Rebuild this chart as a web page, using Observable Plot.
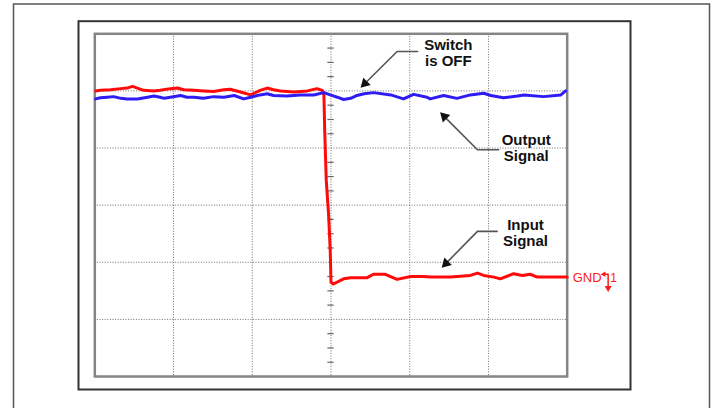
<!DOCTYPE html>
<html>
<head>
<meta charset="utf-8">
<script src="https://cdn.jsdelivr.net/npm/d3@7"></script>
<script src="https://cdn.jsdelivr.net/npm/@observablehq/plot@0.6"></script>
<style>
  html, body { margin: 0; padding: 0; background: white; overflow: hidden; }
</style>
</head>
<body>
<script>
// Scope screen: 6 x 6 divisions. Time in divisions (0..6), voltage in divisions (-3..3).
const gridX = [1, 2, 3, 4, 5];
const gridY = [-2, -1, 0, 1, 2];
const minorTicks = d3.range(-3, 3.001, 0.25).filter(v => Math.abs(v - Math.round(v)) > 0.01);

// Input signal (red)
const redT = [0.01,0.07,0.20,0.33,0.41,0.48,0.54,0.62,0.75,0.83,
              0.96,1.05,1.13,1.26,1.38,1.51,1.64,1.72,1.85,1.98,
              2.10,2.19,2.27,2.36,2.53,2.70,2.82,2.89,2.91,2.92,
              2.94,2.97,2.99,3.00,3.03,3.16,3.25,3.46,3.54,3.69,
              3.84,4.01,4.18,4.26,4.52,4.77,4.86,4.94,5.07,5.15,
              5.32,5.43,5.53,5.62,5.96,6.00];
const redV = [2.00,2.01,2.02,2.04,2.05,2.08,2.05,2.01,2.00,2.01,
              2.04,2.05,2.02,2.01,2.00,1.99,2.02,2.03,1.98,1.93,
              2.01,2.05,2.02,2.00,1.98,2.00,2.04,2.01,1.93,1.31,
              0.43,-0.18,-0.79,-1.35,-1.38,-1.29,-1.27,-1.27,-1.21,-1.21,
              -1.30,-1.25,-1.25,-1.26,-1.26,-1.23,-1.19,-1.23,-1.26,-1.29,
              -1.20,-1.23,-1.21,-1.26,-1.26,-1.26];

// Output signal (blue)
const blueT = [0.01,0.07,0.16,0.24,0.33,0.41,0.54,0.67,0.75,0.83,
               0.88,0.96,1.09,1.17,1.26,1.38,1.51,1.64,1.77,1.89,
               1.98,2.10,2.19,2.27,2.44,2.61,2.78,2.91,2.99,3.08,
               3.16,3.25,3.33,3.42,3.54,3.76,3.92,4.05,4.22,4.26,
               4.43,4.60,4.77,4.94,5.03,5.19,5.37,5.45,5.70,5.92,
               5.98];
const blueV = [1.86,1.88,1.89,1.90,1.87,1.86,1.86,1.89,1.91,1.89,
               1.87,1.89,1.92,1.89,1.89,1.87,1.90,1.89,1.92,1.86,
               1.89,1.93,1.95,1.92,1.91,1.93,1.93,1.97,1.93,1.89,
               1.85,1.87,1.92,1.95,1.97,1.93,1.86,1.94,1.89,1.86,
               1.92,1.87,1.93,1.96,1.92,1.88,1.91,1.93,1.90,1.93,
               2.00];

// Annotation labels
const labelText = ["Switch\nis OFF", "Output\nSignal", "Input\nSignal"];
const labelT = [4.49, 5.48, 5.47];
const labelV = [2.67, 1.01, -0.49];

// Callout leader lines (each: horizontal stub then diagonal to arrow head)
const arrowId = ["s","s","s","o","o","o","i","i","i"];
const arrowT = [4.10,3.84,3.43, 5.13,4.86,4.44, 5.11,4.86,4.46];
const arrowV = [2.69,2.69,2.13, 0.97,0.97,1.55, -0.46,-0.46,-1.02];
const headT = [3.43, 4.44, 4.46];
const headV = [2.13, 1.55, -1.02];
const headRot = [-135, -45, -135];

// Ground marker for channel 1
const gndLevel = -1.27;

const red = redT.map((t, i) => ({t, v: redV[i]}));
const blue = blueT.map((t, i) => ({t, v: blueV[i]}));
const labels = labelText.map((text, i) => ({text, t: labelT[i], v: labelV[i]}));
const arrows = arrowT.map((t, i) => ({t, v: arrowV[i], id: arrowId[i]}));
const heads = headT.map((t, i) => ({t, v: headV[i], rot: headRot[i]}));

const gndLine = [{t:6.47, v:-1.21}, {t:6.52, v:-1.21}, {t:6.52, v:-1.42}];

const gridStyle = {stroke: "#6a6a6a", strokeWidth: 1, strokeDasharray: "1,1.6"};

const chart = Plot.plot({
  width: 713,
  height: 408,
  marginLeft: 94.3,
  marginRight: 146.3,
  marginTop: 33.3,
  marginBottom: 32,
  x: {domain: [0, 6], axis: null},
  y: {domain: [-3, 3], axis: null},
  style: {fontFamily: "'Liberation Sans', Arial, sans-serif", background: "white", overflow: "visible"},
  marks: [
    // page frames
    Plot.frame({stroke: "#555", strokeWidth: 1.5, insetLeft: -81.3, insetTop: -29.8, insetRight: -142.3, insetBottom: -60}),
    Plot.frame({stroke: "#333", strokeWidth: 2, insetLeft: -16.3, insetTop: -12.6, insetRight: -63.3, insetBottom: -13}),
    // graticule
    Plot.ruleX(gridX, gridStyle),
    Plot.ruleY(gridY, gridStyle),
    Plot.ruleY(minorTicks, {x1: 2.96, x2: 3.04, stroke: "#666", strokeWidth: 1.2}),
    Plot.frame({stroke: "#858585", strokeWidth: 2.5}),
    // traces
    Plot.line(red, {x: "t", y: "v", stroke: "#ff0a0a", strokeWidth: 3, strokeLinejoin: "round", curve: "linear"}),
    Plot.line(blue, {x: "t", y: "v", stroke: "#2f1cf5", strokeWidth: 3, strokeLinejoin: "round", curve: "linear"}),
    // callouts
    Plot.line(arrows, {x: "t", y: "v", z: "id", stroke: "#555", strokeWidth: 1.6}),
    Plot.dot(heads, {x: "t", y: "v", rotate: "rot", symbol: "triangle", r: 3.9, fill: "#111", stroke: "none"}),
    Plot.text(labels, {x: "t", y: "v", text: "text", fontSize: 15, fontWeight: "bold", lineHeight: 1.07, fill: "#111"}),
    // ground marker
    Plot.text(["GND"], {x: 6.07, y: gndLevel, text: d => d, textAnchor: "start", fontSize: 13, fill: "#ff1a1a"}),
    Plot.line(gndLine, {x: "t", y: "v", stroke: "#ff1a1a", strokeWidth: 1.5}),
    Plot.dot([{t: 6.465, v: -1.21}], {x: "t", y: "v", symbol: "triangle", rotate: -90, r: 2, fill: "#ff1a1a", stroke: "none"}),
    Plot.dot([{t: 6.52, v: -1.45}], {x: "t", y: "v", symbol: "triangle", rotate: 180, r: 2.6, fill: "#ff1a1a", stroke: "none"}),
    Plot.text(["1"], {x: 6.59, y: -1.28, text: d => d, fontSize: 12, fill: "#ff1a1a"})
  ]
});
document.body.append(chart);
</script>
</body>
</html>
